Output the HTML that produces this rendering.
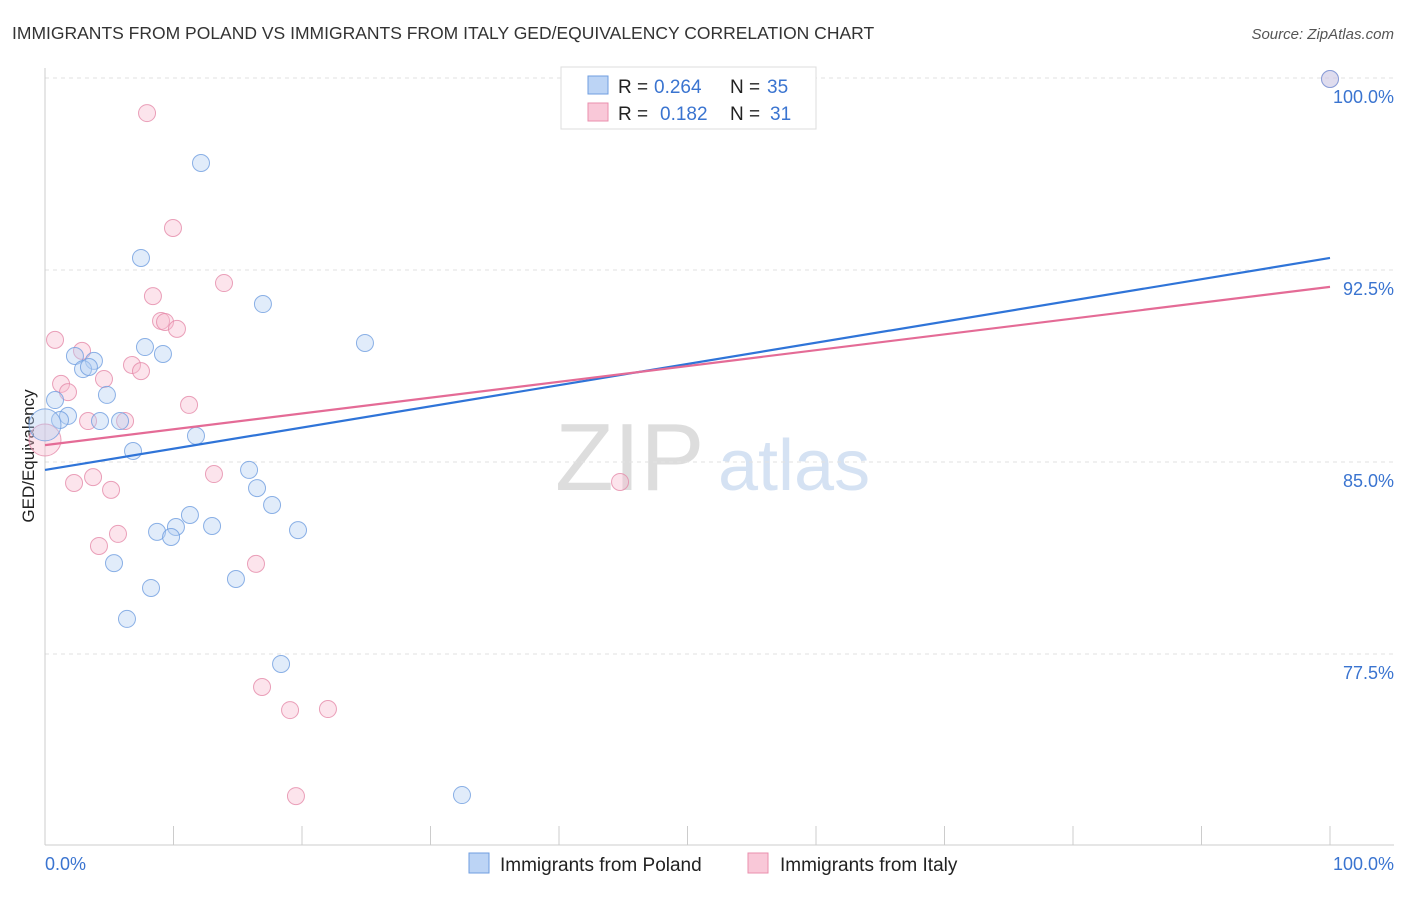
<!DOCTYPE html>
<html><head><meta charset="utf-8"><style>
body{margin:0;background:#fff;font-family:"Liberation Sans",sans-serif;}
svg text{font-family:"Liberation Sans",sans-serif;}
</style></head><body>
<svg width="1406" height="892" xmlns="http://www.w3.org/2000/svg">
<text x="12" y="39" font-size="17.5" fill="#333">IMMIGRANTS FROM POLAND VS IMMIGRANTS FROM ITALY GED/EQUIVALENCY CORRELATION CHART</text>
<text x="1394" y="39" font-size="15" fill="#555" font-style="italic" text-anchor="end">Source: ZipAtlas.com</text>
<text x="34" y="456" font-size="17" fill="#222" text-anchor="middle" transform="rotate(-90 34 456)">GED/Equivalency</text>
<text x="555" y="490" font-size="96" fill="#ddd" font-family="Liberation Serif">ZIP</text>
<text x="718" y="490" font-size="72" fill="#d5e2f3">atlas</text>
<g id="grid"></g>
<g id="axes"></g>
<g id="pts"></g>
<g id="lines"></g>
<g>
<rect x="561" y="67" width="255" height="62" fill="#fff" stroke="#ddd"/>
<rect x="588" y="76" width="20" height="18" fill="#bcd4f5" stroke="#6f9ee0"/>
<rect x="588" y="103" width="20" height="18" fill="#f9c8d8" stroke="#ea8fae"/>
<text x="618" y="93" font-size="19" fill="#222">R =</text>
<text x="654" y="93" font-size="19" fill="#3a74d0">0.264</text>
<text x="730" y="93" font-size="19" fill="#222">N =</text>
<text x="767" y="93" font-size="19" fill="#3a74d0">35</text>
<text x="618" y="120" font-size="19" fill="#222">R =</text>
<text x="660" y="120" font-size="19" fill="#3a74d0">0.182</text>
<text x="730" y="120" font-size="19" fill="#222">N =</text>
<text x="770" y="120" font-size="19" fill="#3a74d0">31</text>
</g>
<g>
<rect x="469" y="853" width="20" height="20" fill="#bcd4f5" stroke="#6f9ee0"/>
<text x="500" y="871" font-size="19" fill="#222">Immigrants from Poland</text>
<rect x="748" y="853" width="20" height="20" fill="#f9c8d8" stroke="#ea8fae"/>
<text x="780" y="871" font-size="19" fill="#222">Immigrants from Italy</text>
</g>
</svg>
<script>
const yTicks=[77.5,85,92.5,100];
const yTickLabels=["77.5%","85.0%","92.5%","100.0%"];
const polandX=[100,12.14,7.47,16.96,24.90,7.78,9.18,2.33,3.81,2.96,3.42,0.78,4.82,1.79,1.17,4.28,5.84,11.75,6.85,15.88,16.50,17.67,11.28,10.19,13.00,8.72,9.81,19.69,5.37,14.86,8.25,6.38,18.37,32.45,0];
const polandY=[99.96,96.68,92.97,91.17,89.65,89.49,89.22,89.14,88.95,88.63,88.71,87.42,87.62,86.80,86.64,86.60,86.60,86.02,85.43,84.69,83.98,83.32,82.93,82.46,82.50,82.27,82.07,82.34,81.05,80.43,80.08,78.87,77.11,71.99,86.45];
const italyX=[100,7.94,9.96,13.93,8.40,9.03,9.34,10.27,0.78,2.88,6.77,7.47,4.59,1.25,1.79,3.35,6.23,11.21,0,2.26,3.74,5.14,13.15,44.75,4.20,5.68,16.42,16.89,19.07,22.02,19.53];
const italyY=[99.96,98.63,94.14,91.99,91.48,90.51,90.47,90.20,89.77,89.34,88.79,88.55,88.24,88.05,87.73,86.60,86.60,87.23,85.86,84.18,84.41,83.91,84.53,84.22,81.72,82.19,81.02,76.21,75.31,75.35,71.95];
const polandTrend=[84.69,92.97];
const italyTrend=[85.66,91.84];
const NS="http://www.w3.org/2000/svg";
const X=v=>45+v*12.85, Y=v=>78+(100-v)*25.6;
function mk(t,a,p){const e=document.createElementNS(NS,t);for(const k in a)e.setAttribute(k,a[k]);p.appendChild(e);return e;}
const grid=document.getElementById('grid'),axes=document.getElementById('axes'),pts=document.getElementById('pts'),lines=document.getElementById('lines');
yTicks.forEach((t,i)=>{
 const l=mk('line',{x1:45,x2:1394,y1:Y(t),y2:Y(t),stroke:'#e2e2e2','stroke-dasharray':'4,4'},grid);
 
 
 const tx=mk('text',{x:1394,y:Y(t)+25,'font-size':18,fill:'#3a74d0','text-anchor':'end'},axes);
 tx.textContent=yTickLabels[i];
 
 
});
const ax=mk('line',{x1:45,x2:45,y1:68,y2:845,stroke:'#ccc'},axes);


const bx=mk('line',{x1:45,x2:1394,y1:845,y2:845,stroke:'#ccc'},axes);


for(let i=0;i<=10;i++){const t=mk('line',{x1:X(i*10),x2:X(i*10),y1:826,y2:845,stroke:'#ccc'},axes);
 
 }
[["0.0%",45,'start'],["100.0%",1394,'end']].forEach(d=>{const t=mk('text',{x:d[1],y:870,'font-size':18,fill:'#3a74d0','text-anchor':d[2]},axes);t.textContent=d[0];
 
 });
function series(xs,ys,fill,stroke,name){xs.forEach((x,i)=>{const c=mk('circle',{cx:X(x),cy:Y(ys[i]),r:x===0?16:8.5,fill:fill,'fill-opacity':0.4,stroke:stroke,'stroke-opacity':0.8,'stroke-width':1},pts);
 
 });}
series(italyX,italyY,'#f7bcd0','#e58aa9','point-italy');
series(polandX,polandY,'#b5cff3','#6f9ee0','point-poland');
const l1=mk('line',{x1:X(0),y1:Y(polandTrend[0]),x2:X(100),y2:Y(polandTrend[1]),stroke:'#2f74d8','stroke-width':2.2},lines);


const l2=mk('line',{x1:X(0),y1:Y(italyTrend[0]),x2:X(100),y2:Y(italyTrend[1]),stroke:'#e46b96','stroke-width':2.2},lines);


</script>
</body></html>
